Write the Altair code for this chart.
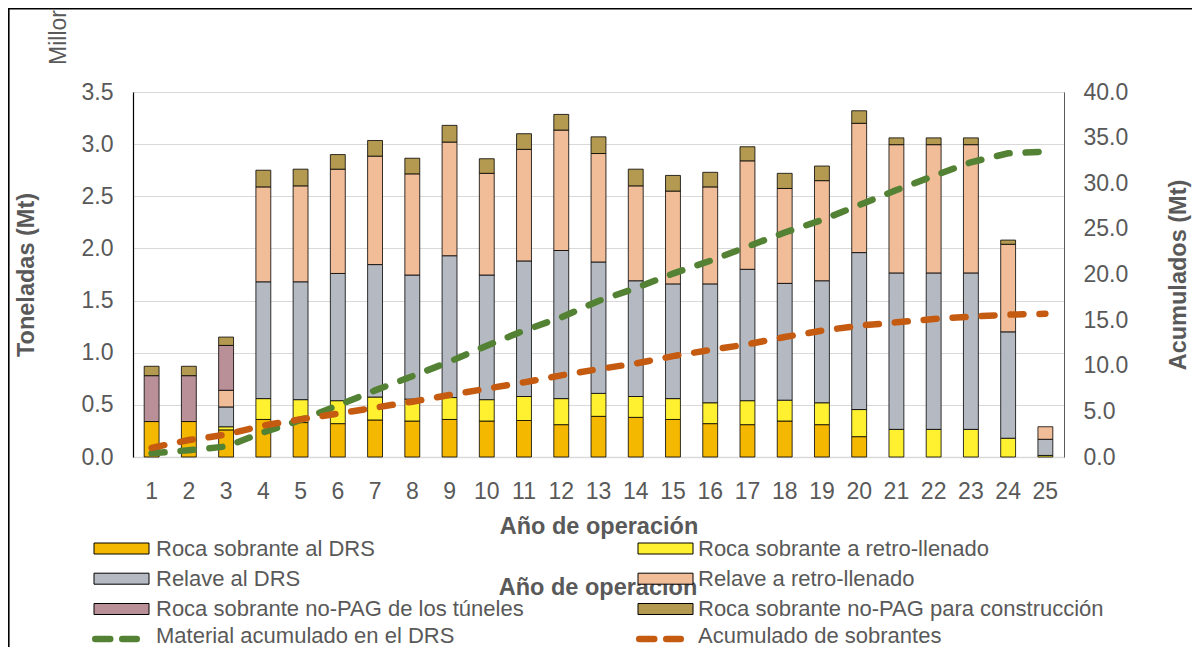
import altair as alt
import pandas as pd

# ---------------- data ----------------
anios = list(range(1, 26))

roca_drs = [0.34, 0.34, 0.26, 0.36, 0.33, 0.32, 0.355, 0.345, 0.36, 0.345, 0.35, 0.31, 0.39,
            0.38, 0.36, 0.32, 0.31, 0.345, 0.31, 0.195, 0, 0, 0, 0, 0]
roca_retro = [0, 0, 0.03, 0.20, 0.22, 0.22, 0.22, 0.21, 0.21, 0.205, 0.23, 0.25, 0.22,
              0.20, 0.20, 0.20, 0.23, 0.20, 0.21, 0.26, 0.265, 0.265, 0.265, 0.18, 0.015]
relave_drs = [0, 0, 0.19, 1.12, 1.13, 1.22, 1.27, 1.19, 1.36, 1.195, 1.30, 1.42, 1.26,
              1.11, 1.10, 1.14, 1.26, 1.12, 1.17, 1.505, 1.50, 1.50, 1.50, 1.02, 0.155]
relave_retro = [0, 0, 0.16, 0.91, 0.92, 1.00, 1.04, 0.97, 1.09, 0.975, 1.07, 1.155, 1.04,
                0.91, 0.89, 0.93, 1.04, 0.91, 0.96, 1.24, 1.23, 1.23, 1.23, 0.84, 0.12]
tuneles = [0.44, 0.44, 0.43, 0, 0, 0, 0, 0, 0, 0, 0, 0, 0,
           0, 0, 0, 0, 0, 0, 0, 0, 0, 0, 0, 0]
construccion = [0.09, 0.09, 0.08, 0.16, 0.16, 0.14, 0.15, 0.15, 0.16, 0.14, 0.15, 0.15, 0.16,
                0.16, 0.15, 0.14, 0.135, 0.145, 0.14, 0.12, 0.065, 0.065, 0.065, 0.04, 0]

acum_drs = [0.40, 0.75, 1.15, 2.70, 4.05, 5.65, 7.30, 8.85, 10.45, 12.20, 13.85, 15.30, 17.10,
            18.50, 20.10, 21.50, 23.05, 24.60, 25.97, 27.60, 29.25, 30.80, 32.30, 33.28, 33.46]
acum_sobrantes = [1.00, 1.86, 2.45, 3.45, 4.13, 4.75, 5.41, 6.06, 6.79, 7.49, 8.18, 8.95, 9.63,
                  10.25, 11.05, 11.73, 12.35, 13.15, 13.85, 14.39, 14.76, 15.12, 15.38, 15.60, 15.70]

series = ["Roca sobrante al DRS", "Roca sobrante a retro-llenado", "Relave al DRS",
          "Relave a retro-llenado", "Roca sobrante no-PAG de los túneles",
          "Roca sobrante no-PAG para construcción"]
colores = ["#F5B800", "#FFF030", "#B5BAC2", "#F1BD98", "#BA9098", "#B39A50"]

lineas = ["Material acumulado en el DRS", "Acumulado de sobrantes"]
colores_lineas = ["#548235", "#C55A11"]

unidad = "Millor"   # display-unit label, shown cut off in the original

# ---------------- tables ----------------
valores = [roca_drs, roca_retro, relave_drs, relave_retro, tuneles, construccion]
filas = []
for k, (s, vals) in enumerate(zip(series, valores)):
    for a, v in zip(anios, vals):
        filas.append({"anio": a, "serie": s, "orden": k, "valor": v})
df_bar = pd.DataFrame(filas)

filas_l = []
for s, vals in zip(lineas, [acum_drs, acum_sobrantes]):
    for a, v in zip(anios, vals):
        filas_l.append({"anio": a, "serie": s, "valor": v})
df_lin = pd.DataFrame(filas_l)

FONT = "Liberation Sans"
GRIS = "#595959"
W, H = 931, 365
PL, PT = 125, 84          # padding -> plot origin at page (133, 92)
PR = 1184 - PL - W
PB = 639 - PT - H
OX, OY = PL + 8, PT + 8   # page coords of plot origin

eje_x = alt.Axis(title="Año de operación", labelAngle=0, ticks=False, tickSize=0,
                 labelPadding=23, labelFontSize=23, labelColor=GRIS, labelFont=FONT,
                 domainColor="#D9D9D9", domainWidth=1.5,
                 titleFont=FONT, titleFontSize=23.5, titleFontWeight="bold", titleColor=GRIS,
                 titleX=W / 2, titleY=69.3, titleAlign="center", titleBaseline="middle")

x_enc = alt.X("anio:O", scale=alt.Scale(paddingInner=0.6, paddingOuter=0.3), axis=eje_x)

barras = alt.Chart(df_bar).transform_filter("datum.valor > 0").mark_bar(
    stroke="#000000", strokeWidth=0.8
).encode(
    x=x_enc,
    y=alt.Y("valor:Q", stack="zero",
            scale=alt.Scale(domain=[0, 3.5], nice=False, zero=True),
            axis=alt.Axis(title="Toneladas (Mt)", values=[0, 0.5, 1, 1.5, 2, 2.5, 3, 3.5],
                          format=".1f", grid=True, gridColor="#D9D9D9", gridWidth=1.2,
                          domainColor="#000000", domainWidth=1.2, ticks=False, tickSize=0,
                          labelPadding=20, labelFontSize=23, labelColor=GRIS, labelFont=FONT,
                          titleFont=FONT, titleFontSize=23.5, titleFontWeight="bold",
                          titleColor=GRIS, titleAngle=270, titleX=25 + 1.4 - OX,
                          titleY=H / 2, titleAlign="center", titleBaseline="middle")),
    color=alt.Color("serie:N", scale=alt.Scale(domain=series, range=colores), legend=None),
    order=alt.Order("orden:Q", sort="ascending"),
)

lin = alt.Chart(df_lin).mark_line(strokeWidth=6.5, strokeDash=[13, 16], strokeCap="round").encode(
    x=alt.X("anio:O", scale=alt.Scale(paddingInner=0.6, paddingOuter=0.3), axis=eje_x),
    y=alt.Y("valor:Q", scale=alt.Scale(domain=[0, 40], nice=False),
            axis=alt.Axis(orient="right", title="Acumulados (Mt)",
                          values=[0, 5, 10, 15, 20, 25, 30, 35, 40], format=".1f",
                          grid=False, domainColor=GRIS, domainWidth=1, ticks=False, tickSize=0,
                          labelPadding=19, labelFontSize=23, labelColor=GRIS, labelFont=FONT,
                          titleFont=FONT, titleFontSize=23.5, titleFontWeight="bold",
                          titleColor=GRIS, titleAngle=270, titleX=1177.5 + 1.4 - (OX + W),
                          titleY=H / 2, titleAlign="center", titleBaseline="middle")),
    stroke=alt.Stroke("serie:N", scale=alt.Scale(domain=lineas, range=colores_lineas), legend=None),
    detail="serie:N",
)

uno = pd.DataFrame({"k": [0]})

borde = alt.Chart(uno).mark_rect(fillOpacity=0, stroke="#000000", strokeWidth=1.6).encode(
    x=alt.value(8.8 - OX), x2=alt.value(1400), y=alt.value(8.8 - OY), y2=alt.value(900)
)

millones = alt.Chart(pd.DataFrame({"t": [unidad]})).mark_text(
    angle=270, align="left", baseline="middle", font=FONT, fontSize=23, color=GRIS
).encode(text="t:N", x=alt.value(58.9 - OX), y=alt.value(65 - OY))

titulo2 = alt.Chart(pd.DataFrame({"t": ["Año de operación"]})).mark_text(
    align="center", baseline="middle", font=FONT, fontSize=23.5, fontWeight="bold", color=GRIS
).encode(text="t:N", x=alt.value(598 - OX), y=alt.value(588.3 - OY))

capas = [borde, barras, lin, millones, titulo2]

# legend (manual, two columns)
col_sym = [94, 638]
col_txt = [156, 698]
fila_y = [548.5, 578.7, 609, 635.5]
for i, (s, c) in enumerate(zip(series, colores)):
    col, fila = i % 2, i // 2
    yc = fila_y[fila]
    capas.append(alt.Chart(uno).mark_rect(fill=c, stroke="#000000", strokeWidth=1).encode(
        x=alt.value(col_sym[col] - OX), x2=alt.value(col_sym[col] + 55 - OX),
        y=alt.value(yc - 5.5 - OY), y2=alt.value(yc + 5.5 - OY)))
    capas.append(alt.Chart(pd.DataFrame({"t": [s]})).mark_text(
        align="left", baseline="middle", font=FONT, fontSize=22, color=GRIS
    ).encode(text="t:N", x=alt.value(col_txt[col] - OX), y=alt.value(yc - OY)))
for j, (s, c) in enumerate(zip(lineas, colores_lineas)):
    yc = fila_y[3]
    x0 = col_sym[j] + 1.25
    capas.append(alt.Chart(uno).mark_rule(
        color=c, strokeWidth=6.5, strokeDash=[15, 12], strokeCap="round"
    ).encode(x=alt.value(x0 - OX), x2=alt.value(x0 + 41.5 - OX),
             y=alt.value(yc + 3.5 - OY), y2=alt.value(yc + 3.5 - OY)))
    capas.append(alt.Chart(pd.DataFrame({"t": [s]})).mark_text(
        align="left", baseline="middle", font=FONT, fontSize=22, color=GRIS
    ).encode(text="t:N", x=alt.value(col_txt[j] - OX), y=alt.value(yc - OY)))

chart = alt.layer(*capas).resolve_scale(
    y="independent"
).properties(
    width=W, height=H,
    padding={"left": PL, "top": PT, "right": PR, "bottom": PB},
    autosize=alt.AutoSizeParams(type="none"),
    background="white",
).configure_view(stroke=None).configure(font=FONT)

chart.save("out.html", embed_options={"renderer": "svg", "actions": False})
